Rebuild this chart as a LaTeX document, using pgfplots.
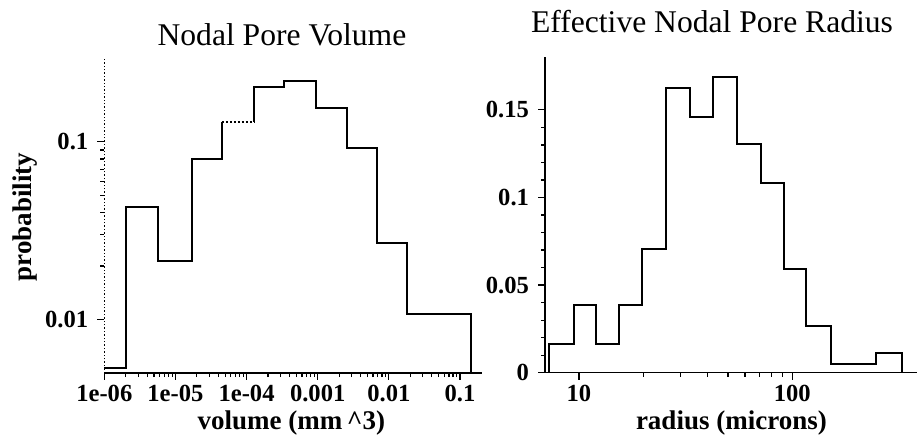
\documentclass[border=0pt]{standalone}
\usepackage{fontspec}
\setmainfont{Liberation Serif}
\usepackage{pgfplots}
\pgfplotsset{compat=1.18}
\pgfplotsset{
  hist/.style={
    scale only axis,
    axis lines=left,
    axis line style={-, line width=0.7pt, black},
    tick align=outside,
    major tick length=3.5pt,
    minor tick length=2pt,
    every tick/.style={black, line width=0.6pt},
    tick label style={font=\fontsize{12.3}{13}\selectfont\bfseries},
    xticklabel style={yshift=1pt},
    yticklabel style={xshift=-1pt},
    label style={font=\fontsize{13.5}{14}\selectfont\bfseries},
    title style={font=\fontsize{15.8}{16}\selectfont},
    clip=false,
  }
}
\begin{document}
\begin{tikzpicture}
\useasboundingbox (0,0) rectangle (458.5pt,219.5pt);
% ---------- left: Nodal Pore Volume ----------
\begin{axis}[hist,
  at={(52.15pt,33pt)}, anchor=south west,
  width=189pt, height=158pt,
  xmode=log, ymode=log,
  xmin=1e-6, xmax=0.206, ymin=0.005, ymax=0.3,
  xtick={1e-6,1e-5,1e-4,1e-3,1e-2,1e-1},
  xticklabels={1e-06,1e-05,1e-04,0.001,0.01,0.1},
  ytick={0.01,0.1}, yticklabels={0.01,0.1},
  y axis line style={densely dotted},
  title={Nodal Pore Volume},
  title style={at={(axis description cs:0.47,1)}, anchor=base, yshift=0pt},
  xlabel={volume (mm\,\^{}3)},
  xlabel style={at={(axis description cs:0.495,0)}, anchor=center, yshift=-25pt},
  ylabel={probability},
  ylabel style={at={(axis description cs:0,0.494)}, anchor=center, yshift=39.7pt},
]
\addplot[const plot, black, line width=1pt] coordinates {
  (1e-6,0.00534) (2.0e-6,0.043) (5.75e-6,0.0214) (1.73e-5,0.0796) (4.48e-5,0.130)
};
\addplot[black, line width=1pt, densely dotted] coordinates {
  (4.48e-5,0.130) (1.29e-4,0.130)
};
\addplot[const plot, black, line width=1pt] coordinates {
  (1.29e-4,0.130) (1.29e-4,0.204) (3.37e-4,0.220) (9.4e-4,0.154) (2.57e-3,0.092)
  (6.9e-3,0.027) (0.0183,0.0108) (0.143,0.0108) (0.143,0.005)
};
\end{axis}
% ---------- right: Effective Nodal Pore Radius ----------
\begin{axis}[hist,
  at={(272.5pt,33.15pt)}, anchor=south west,
  width=186pt, height=157.7pt,
  xmode=log,
  xmin=6.93, xmax=384.3, ymin=0, ymax=0.18,
  xtick={10,100}, xticklabels={10,100},
  ytick={0,0.05,0.1,0.15}, yticklabels={0,0.05,0.1,0.15},
  minor y tick num=4,
  title={Effective Nodal Pore Radius},
  title style={at={(axis description cs:0.449,1)}, anchor=base, yshift=6.5pt},
  xlabel={radius (microns)},
  xlabel style={at={(axis description cs:0.501,0)}, anchor=center, yshift=-25pt},
]
\addplot[const plot, black, line width=1pt] coordinates {
  (7.24,0) (7.24,0.0164) (9.50,0.0384) (12.02,0.0164) (15.45,0.0384) (19.82,0.0707)
  (25.64,0.1625) (33.1,0.1459) (42.6,0.1688) (54.8,0.1304) (71.1,0.1085)
  (91.4,0.0592) (115.5,0.0269) (151.7,0.0050) (247.7,0.0115) (326.6,0.0115) (326.6,0)
};
\end{axis}
\end{tikzpicture}
\end{document}
